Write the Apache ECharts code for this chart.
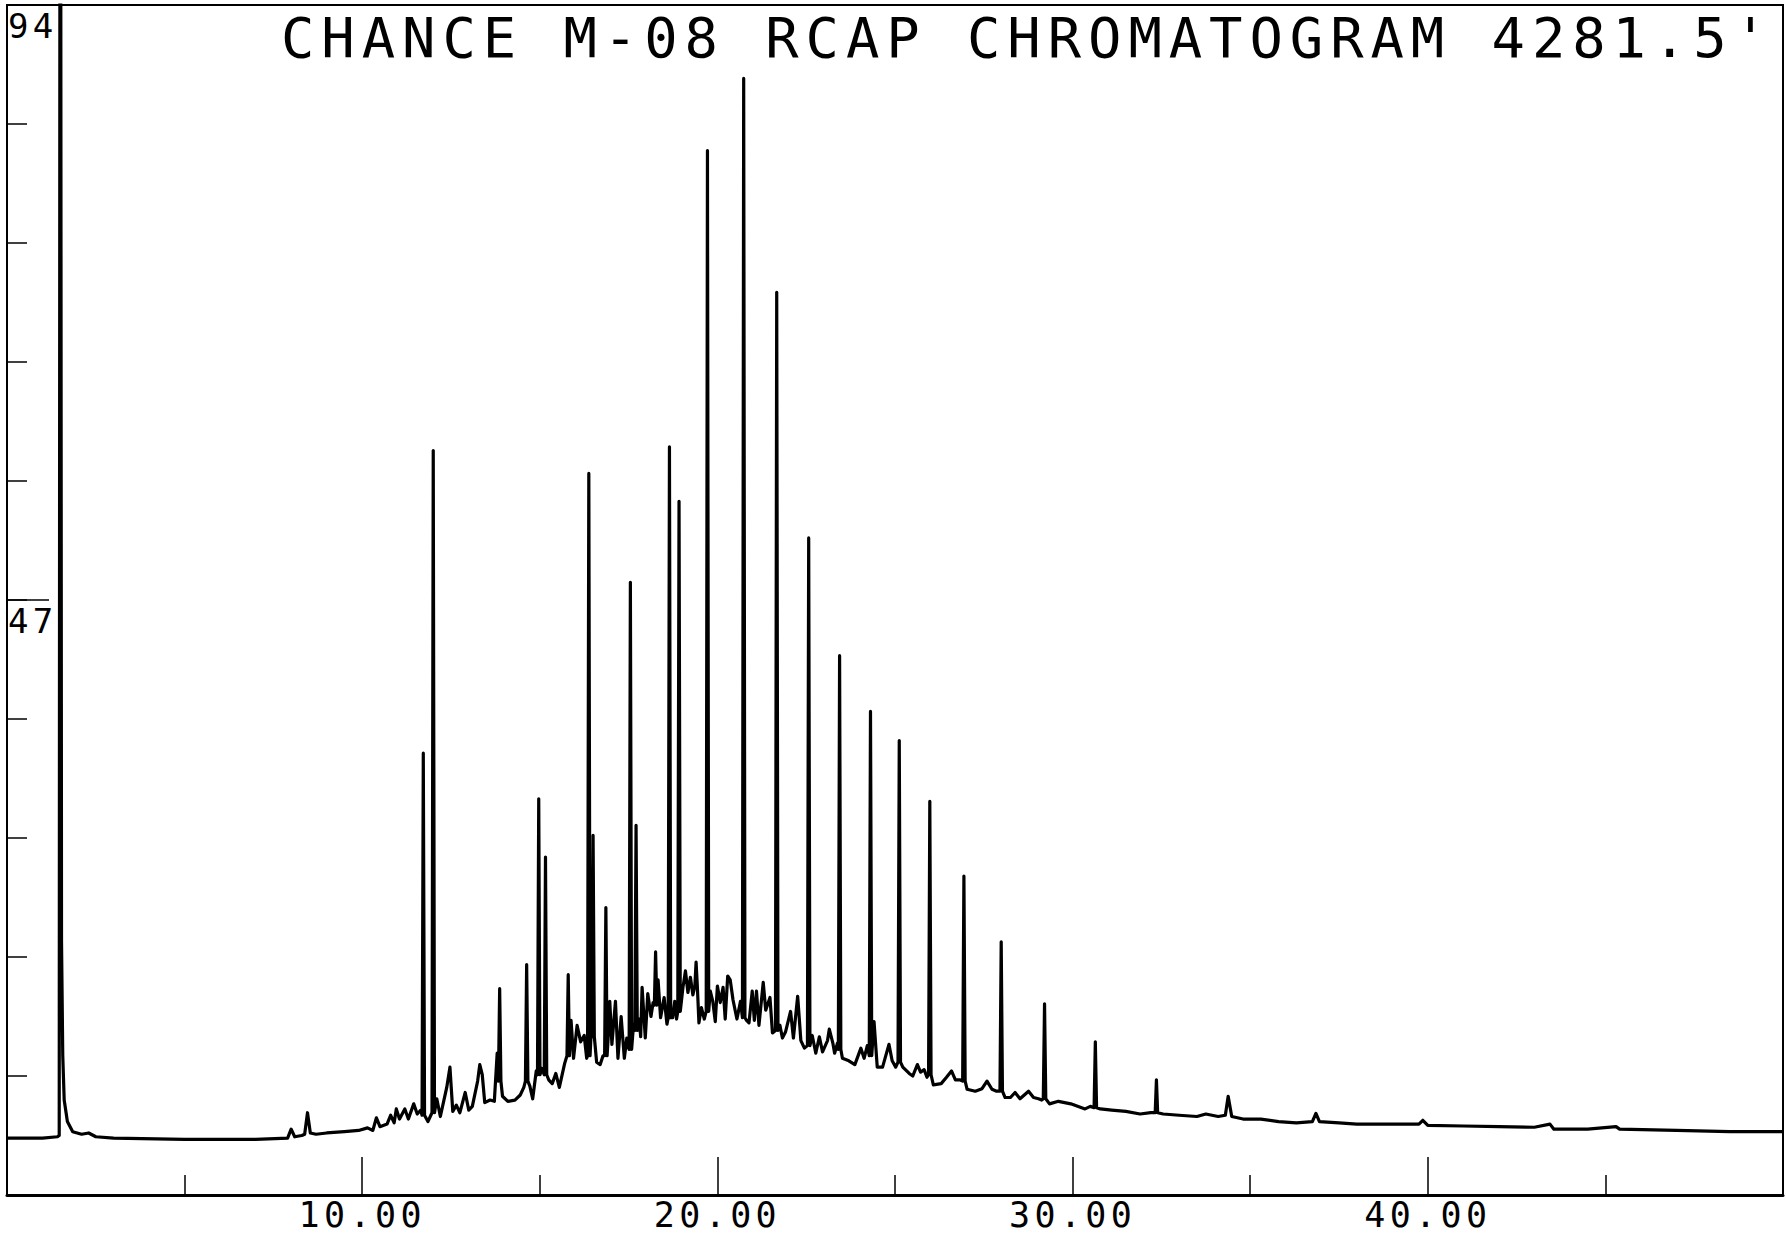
<!DOCTYPE html>
<html>
<head>
<meta charset="utf-8">
<script src="https://cdn.jsdelivr.net/npm/echarts@6/dist/echarts.min.js"></script>
<style>
  html, body { margin: 0; padding: 0; background: #fff; }
  #chart { width: 1786px; height: 1237px; }
  #chart svg text { letter-spacing: 0.125em; }
</style>
</head>
<body>
<div id="chart"></div>
<script>
// ---- data (time in minutes, response in plot units) ----
const titleText = "CHANCE M-08 RCAP CHROMATOGRAM 4281.5'";
const xTickLabels = ['10.00', '20.00', '30.00', '40.00'];
const yTickLabels = ['47', '94'];

// solvent front (goes off scale)
const solventTrace = [[0, 4.5], [1.0, 4.5], [1.42, 4.6], [1.47, 4.7], [1.5, 150], [1.535, 20], [1.57, 11], [1.61, 7.5], [1.7, 5.8], [1.85, 5.0], [2.1, 4.8], [2.3, 4.9], [2.5, 4.6]];

// flat baseline and first small peaks
const earlyTrace = [[3, 4.5], [5, 4.4], [7, 4.4], [7.9, 4.5], [8.0, 5.2], [8.1, 4.6], [8.3, 4.7], [8.38, 4.8], [8.46, 6.5], [8.54, 4.9], [8.7, 4.8], [9.0, 4.9], [9.5, 5.0], [9.9, 5.1], [10.15, 5.3], [10.3, 5.1], [10.4, 6.1], [10.5, 5.4], [10.7, 5.6], [10.8, 6.3], [10.9, 5.7], [10.96, 6.8], [11.05, 6.0], [11.2, 6.8], [11.3, 6.0], [11.45, 7.2], [11.55, 6.4], [11.65, 6.7], [11.85, 5.8], [12.1, 7.6], [12.2, 6.2], [12.38, 8.5], [12.47, 10.1], [12.55, 6.6], [12.65, 7.1], [12.75, 6.5], [12.9, 8.1], [13.0, 6.7], [13.1, 7.0], [13.25, 9.0], [13.31, 10.3], [13.38, 9.5], [13.45, 7.3], [13.6, 7.5], [13.72, 7.4], [13.8, 11.2], [13.95, 7.8], [14.1, 7.4], [14.3, 7.5], [14.45, 7.9], [14.55, 8.5], [14.72, 8.6], [14.8, 7.6], [14.9, 9.8], [15.06, 10.0], [15.25, 9.1], [15.35, 8.8], [15.45, 9.6], [15.55, 8.5], [15.7, 10.4], [15.88, 13.8], [15.95, 10.8], [16.05, 13.4], [16.15, 12.1], [16.25, 12.6], [16.32, 10.8]];

// unresolved hump
const humpTrace = [[16.44, 12.5], [16.6, 10.5], [16.7, 10.3], [16.78, 11.0], [16.93, 12.7], [16.97, 15.3], [17.03, 11.9], [17.13, 15.3], [17.2, 10.8], [17.29, 14.1], [17.38, 10.8], [17.45, 12.4], [17.64, 13.5], [17.8, 13.9], [17.84, 12.5], [17.88, 16.4], [17.97, 12.4], [18.04, 15.9], [18.13, 14.1], [18.19, 15.2], [18.33, 17.0], [18.4, 14.0], [18.5, 15.6], [18.58, 13.5], [18.74, 14.0], [18.8, 15.3], [18.85, 13.9], [19.03, 16.4], [19.1, 17.7], [19.17, 16.0], [19.24, 17.2], [19.31, 15.8], [19.48, 13.6], [19.55, 14.8], [19.63, 13.9], [19.8, 16.1], [19.87, 15.3], [19.94, 13.7], [20.0, 16.5], [20.08, 15.2], [20.16, 16.4], [20.22, 13.9], [20.29, 17.3], [20.36, 17.0], [20.44, 15.4], [20.55, 13.9], [20.65, 15.3], [20.82, 13.8], [20.89, 13.6], [20.98, 16.1], [21.04, 13.8], [21.1, 16.1], [21.17, 13.4], [21.29, 16.8], [21.36, 14.6], [21.48, 15.6], [21.55, 12.8], [21.76, 13.4], [21.83, 12.4], [21.92, 12.9], [22.06, 14.5], [22.14, 12.4], [22.26, 15.7], [22.35, 12.2], [22.45, 11.6], [22.67, 12.6], [22.77, 11.2], [22.87, 12.5], [22.96, 11.3], [23.1, 12.2], [23.15, 13.1], [23.25, 12.0], [23.3, 11.2], [23.38, 12.0], [23.52, 10.8], [23.7, 10.6], [23.87, 10.3], [24.04, 11.6], [24.13, 10.8], [24.22, 11.8], [24.41, 13.7], [24.5, 10.1], [24.65, 10.1], [24.83, 11.9], [24.92, 10.6], [25.02, 10.1], [25.22, 10.1], [25.4, 9.6], [25.5, 9.4], [25.63, 10.3], [25.72, 9.7], [25.82, 9.9], [25.9, 9.3], [26.08, 8.7], [26.3, 8.8], [26.45, 9.3], [26.59, 9.8], [26.7, 9.1], [26.82, 9.1], [27.03, 8.35], [27.26, 8.2], [27.45, 8.4], [27.59, 9.0], [27.73, 8.35], [27.86, 8.2]];

// late, decaying baseline
const tailTrace = [[28.1, 7.7], [28.25, 7.7], [28.38, 8.1], [28.52, 7.6], [28.76, 8.2], [28.9, 7.7], [29.04, 7.6], [29.13, 7.5], [29.35, 7.2], [29.6, 7.4], [29.95, 7.2], [30.35, 6.8], [30.5, 7.0], [30.78, 6.8], [31.1, 6.7], [31.5, 6.6], [31.9, 6.4], [32.2, 6.5], [32.55, 6.4], [33.0, 6.3], [33.5, 6.2], [33.75, 6.4], [34.1, 6.2], [34.3, 6.3], [34.38, 7.8], [34.48, 6.2], [34.8, 6.0], [35.3, 6.0], [35.8, 5.8], [36.3, 5.7], [36.75, 5.8], [36.85, 6.45], [36.95, 5.8], [37.5, 5.7], [38.0, 5.6], [38.5, 5.6], [39.2, 5.6], [39.75, 5.6], [39.86, 5.9], [40.0, 5.5], [41.0, 5.45], [42.0, 5.4], [43.0, 5.35], [43.44, 5.6], [43.55, 5.2], [44.5, 5.2], [45.3, 5.4], [45.4, 5.2], [47.0, 5.1], [48.5, 5.0], [50.0, 5.0]];

// sharp resolved peaks: retention time, apex height, floor under the peak
const peakTimes   = [11.72, 12.0, 13.87, 14.63, 14.97, 15.16, 15.8, 16.38, 16.5, 16.86, 17.55, 17.71, 18.26, 18.65, 18.92, 19.4, 19.72, 20.74, 21.67, 22.57, 23.44, 24.31, 25.12, 25.98, 26.94, 27.99, 29.21, 30.64, 32.36];
const peakHeights = [34.9, 58.8, 16.3, 18.2, 31.3, 26.7, 17.4, 57.0, 28.4, 22.7, 48.4, 29.2, 19.2, 59.1, 54.8, 18.4, 82.5, 88.2, 71.3, 51.9, 42.6, 38.2, 35.9, 31.1, 25.2, 20.0, 15.1, 12.1, 9.1];
const peakFloors  = [6.3, 6.5, 9.0, 9.0, 9.5, 9.5, 11.0, 11.0, 12.5, 11.0, 11.5, 13.0, 15.0, 14.0, 14.5, 16.5, 14.5, 14.0, 13.0, 11.8, 11.5, 11.0, 10.5, 9.5, 9.0, 8.2, 7.6, 6.9, 6.5];

// ---- build the trace ----
const HALF = 0.035;
let pts = [].concat(solventTrace, earlyTrace, humpTrace, tailTrace);
peakTimes.forEach((t, i) => {
  pts = pts.filter(p => Math.abs(p[0] - t) > HALF * 1.5);
  pts.push([t - HALF, peakFloors[i]], [t, peakHeights[i]], [t + HALF, peakFloors[i]]);
});
pts.sort((a, b) => a[0] - b[0]);

const FONT = 'DejaVu Sans Mono';
const chart = echarts.init(document.getElementById('chart'), null, { renderer: 'svg' });
chart.setOption({
  animation: false,
  backgroundColor: '#fff',
  title: {
    text: titleText,
    left: 281, top: 9, padding: 0,
    textStyle: { fontFamily: FONT, fontSize: 55.5, fontWeight: 'normal', color: '#000' }
  },
  grid: { left: 7, right: 0, top: 5, bottom: 42, show: true, borderColor: '#000', borderWidth: 2, backgroundColor: 'transparent' },
  xAxis: {
    type: 'value', min: 0, max: 50, interval: 10,
    axisLine: { show: true, onZero: false, lineStyle: { color: '#000', width: 3 } },
    axisTick: { show: true, inside: true, length: 38, lineStyle: { color: '#000', width: 1.5 } },
    minorTick: { show: true, splitNumber: 2, length: 20, lineStyle: { color: '#000', width: 1.5 } },
    splitLine: { show: false },
    axisLabel: {
      margin: 5, color: '#000', fontFamily: FONT, fontSize: 35, lineHeight: 30,
      formatter: v => { const s = v.toFixed(2); return xTickLabels.indexOf(s) >= 0 ? s : ''; }
    }
  },
  yAxis: [{
    type: 'value', min: 0, max: 94, interval: 9.4,
    axisLine: { show: true, onZero: false, lineStyle: { color: '#000', width: 2 } },
    axisTick: { show: true, inside: true, length: 20, lineStyle: { color: '#000', width: 1.5 } },
    axisLabel: { show: false },
    splitLine: { show: false }
  }, {
    type: 'value', min: 0, max: 94, interval: 47, position: 'left',
    axisLine: { show: false },
    axisTick: { show: true, inside: true, length: 42, lineStyle: { color: '#000', width: 1.5 } },
    splitLine: { show: false },
    axisLabel: {
      inside: true, margin: 1, align: 'left', verticalAlign: 'top', padding: [4, 0, 0, 0],
      color: '#000', fontFamily: FONT, fontSize: 34,
      formatter: v => { const s = String(Math.round(v)); return yTickLabels.indexOf(s) >= 0 ? s : ''; }
    }
  }],
  series: [{
    type: 'line', yAxisIndex: 0, data: pts, showSymbol: false, clip: true,
    lineStyle: { color: '#000', width: 3.2, join: 'round' }
  }]
});
</script>
</body>
</html>
